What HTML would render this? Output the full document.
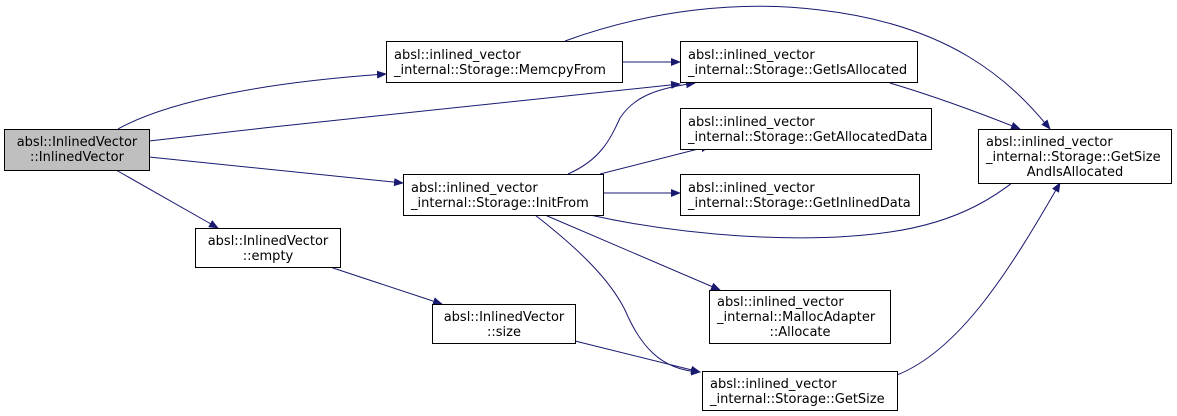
<!DOCTYPE html>
<html><head><style>body{margin:0;background:#fff}svg{display:block}</style></head><body>
<svg width="1177" height="416" xmlns="http://www.w3.org/2000/svg" font-family="DejaVu Sans, sans-serif" font-size="13">
<defs><marker id="a" markerWidth="10" markerHeight="8" refX="9" refY="4" orient="auto" markerUnits="userSpaceOnUse"><path d="M0,0L10,4L0,8z" fill="#191970"/></marker></defs>
<g fill="none" stroke="#191970" stroke-width="1" marker-end="url(#a)">
<path d="M118,129C170,100 270,82 386,74"/>
<path d="M149,141C330,120 520,100 680,84"/>
<path d="M149,157L403,183"/>
<path d="M116,170L218,228"/>
<path d="M622,62L680,62"/>
<path d="M565,41C650,10 740,0 820,10C950,25 1010,80 1050,129"/>
<path d="M890,83C940,98 985,115 1020,129"/>
<path d="M568,174C600,160 610,140 620,118C635,95 660,88 695,83"/>
<path d="M600,174L710,146"/>
<path d="M603,193L680,193"/>
<path d="M590,215C680,235 800,245 890,232C960,222 1000,195 1030,168"/>
<path d="M545,215L720,290"/>
<path d="M535,215C580,250 610,280 625,310C640,345 660,370 700,372"/>
<path d="M330,267L442,304"/>
<path d="M575,341L700,372"/>
<path d="M897,375C960,350 1010,270 1060,183"/>
</g>
<g stroke="#000" stroke-width="1">
<rect x="4.5" y="129.5" width="145" height="41" fill="#bfbfbf"/>
<g fill="#fff">
<rect x="386.5" y="41.5" width="236" height="41"/>
<rect x="680.5" y="41.5" width="237" height="41"/>
<rect x="680.5" y="108.5" width="251" height="41"/>
<rect x="978.5" y="129.5" width="193" height="54"/>
<rect x="403.5" y="174.5" width="200" height="41"/>
<rect x="680.5" y="174.5" width="239" height="41"/>
<rect x="195.5" y="228.5" width="145" height="39"/>
<rect x="432.5" y="304.5" width="143" height="39"/>
<rect x="709.5" y="290.5" width="181" height="53"/>
<rect x="702.5" y="371.5" width="195" height="39"/>
</g></g>
<g fill="#000">
<text x="77" y="146" text-anchor="middle">absl::InlinedVector</text><text x="77" y="161" text-anchor="middle">::InlinedVector</text>
<text x="394" y="59">absl::inlined_vector</text><text x="394" y="74">_internal::Storage::MemcpyFrom</text>
<text x="688" y="59">absl::inlined_vector</text><text x="688" y="74">_internal::Storage::GetIsAllocated</text>
<text x="688" y="126">absl::inlined_vector</text><text x="688" y="141">_internal::Storage::GetAllocatedData</text>
<text x="986" y="146">absl::inlined_vector</text><text x="986" y="161">_internal::Storage::GetSize</text><text x="1075" y="176" text-anchor="middle">AndIsAllocated</text>
<text x="411" y="192">absl::inlined_vector</text><text x="411" y="207">_internal::Storage::InitFrom</text>
<text x="688" y="192">absl::inlined_vector</text><text x="688" y="207">_internal::Storage::GetInlinedData</text>
<text x="268" y="245" text-anchor="middle">absl::InlinedVector</text><text x="268" y="260" text-anchor="middle">::empty</text>
<text x="504" y="321" text-anchor="middle">absl::InlinedVector</text><text x="504" y="336" text-anchor="middle">::size</text>
<text x="717" y="306">absl::inlined_vector</text><text x="717" y="321">_internal::MallocAdapter</text><text x="800" y="336" text-anchor="middle">::Allocate</text>
<text x="710" y="388">absl::inlined_vector</text><text x="710" y="403">_internal::Storage::GetSize</text>
</g>
</svg>
</body></html>
